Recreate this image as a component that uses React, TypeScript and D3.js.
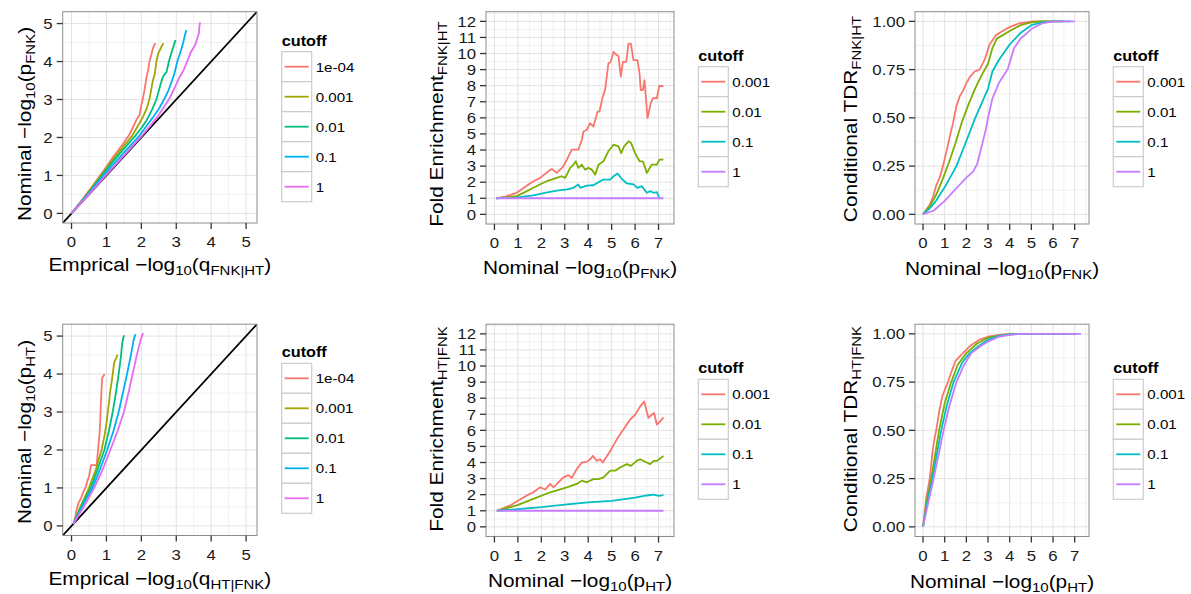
import React from 'react';
import * as d3 from 'd3';

type Pt = [number, number];

// ---------- legend categories / palette ----------
const cutoffs5 = ['1e-04', '0.001', '0.01', '0.1', '1'];
const cutoffs4 = ['0.001', '0.01', '0.1', '1'];
const colors5 = ['#F8766D', '#A3A500', '#00BF7D', '#00B0F6', '#E76BF3'];
const colors4 = ['#F8766D', '#7CAE00', '#00BFC4', '#C77CFF'];

// ---------- tick values ----------
const qqTicks = [0, 1, 2, 3, 4, 5];
const nominalTicks = [0, 1, 2, 3, 4, 5, 6, 7];
const foldTicks = [0, 1, 2, 3, 4, 5, 6, 7, 8, 9, 10, 11, 12];
const tdrTicks = [0, 0.25, 0.5, 0.75, 1];

// ---------- Panel 1: QQ FNK|HT (x = empirical, y = nominal) ----------
const qqFnk_1e4: Pt[] = [[0,0],[0.3,0.35],[0.6,0.72],[0.9,1.1],[1.2,1.5],[1.45,1.8],[1.64,2.05],[1.75,2.25],[1.85,2.45],[1.95,2.6],[2.0,2.85],[2.05,3.05],[2.1,3.3],[2.15,3.6],[2.2,3.8],[2.23,4.0],[2.28,4.15],[2.33,4.35],[2.38,4.45],[2.41,4.48]];
const qqFnk_001: Pt[] = [[0,0],[0.3,0.34],[0.6,0.7],[0.9,1.07],[1.2,1.43],[1.5,1.78],[1.74,2.05],[1.9,2.3],[2.05,2.55],[2.15,2.75],[2.23,3.0],[2.28,3.25],[2.33,3.5],[2.38,3.65],[2.43,4.0],[2.48,4.2],[2.53,4.3],[2.58,4.4],[2.63,4.48]];
const qqFnk_01: Pt[] = [[0,0],[0.3,0.33],[0.6,0.67],[0.9,1.03],[1.2,1.38],[1.5,1.7],[1.83,2.05],[2.0,2.25],[2.15,2.45],[2.3,2.72],[2.43,3.0],[2.52,3.3],[2.6,3.55],[2.65,3.65],[2.72,3.72],[2.79,4.0],[2.85,4.2],[2.92,4.4],[2.98,4.57]];
const qqFnk_1: Pt[] = [[0,0],[0.3,0.32],[0.6,0.64],[0.9,0.98],[1.2,1.3],[1.5,1.6],[1.93,2.03],[2.15,2.3],[2.35,2.55],[2.5,2.75],[2.65,3.0],[2.78,3.25],[2.88,3.5],[2.95,3.7],[3.03,4.0],[3.12,4.25],[3.2,4.5],[3.25,4.7],[3.29,4.83]];
const qqFnk_all: Pt[] = [[0,0],[0.5,0.5],[1.0,1.02],[1.5,1.52],[2.0,2.03],[2.25,2.3],[2.5,2.6],[2.79,3.0],[2.95,3.3],[3.1,3.6],[3.2,3.75],[3.31,4.0],[3.42,4.25],[3.55,4.45],[3.6,4.6],[3.65,4.75],[3.66,4.9],[3.68,5.03]];

// ---------- Panel 4: QQ HT|FNK ----------
const qqHt_1e4: Pt[] = [[0.05,0.05],[0.1,0.2],[0.15,0.45],[0.2,0.6],[0.28,0.75],[0.34,0.9],[0.4,1.0],[0.46,1.2],[0.5,1.3],[0.56,1.6],[0.72,1.6],[0.76,2.0],[0.78,2.2],[0.8,2.4],[0.82,2.7],[0.83,3.0],[0.85,3.4],[0.86,3.6],[0.88,3.9],[0.95,4.0]];
const qqHt_001: Pt[] = [[0.05,0.05],[0.2,0.4],[0.35,0.7],[0.5,1.0],[0.6,1.25],[0.7,1.5],[0.78,1.75],[0.86,2.0],[0.95,2.4],[1.0,2.7],[1.04,3.0],[1.08,3.3],[1.1,3.5],[1.15,3.8],[1.18,4.0],[1.22,4.3],[1.28,4.42],[1.32,4.51]];
const qqHt_01: Pt[] = [[0.05,0.05],[0.3,0.55],[0.55,1.0],[0.75,1.5],[0.94,2.0],[1.07,2.5],[1.18,3.0],[1.27,3.5],[1.35,4.0],[1.42,4.5],[1.45,4.8],[1.48,4.95],[1.51,5.02]];
const qqHt_1: Pt[] = [[0.05,0.05],[0.3,0.5],[0.6,1.0],[0.82,1.5],[1.02,2.0],[1.2,2.5],[1.35,3.0],[1.47,3.5],[1.59,4.0],[1.7,4.5],[1.78,4.9],[1.83,5.05]];
const qqHt_all: Pt[] = [[0.05,0.05],[0.35,0.5],[0.65,1.0],[0.9,1.5],[1.11,2.0],[1.32,2.5],[1.5,3.0],[1.63,3.5],[1.75,4.0],[1.87,4.5],[1.98,4.9],[2.05,5.08]];

// ---------- Panel 2: Fold enrichment FNK|HT ----------
const foldFnk_001: Pt[] = [[0.07,1],[0.5,1.12],[0.95,1.34],[1.3,1.7],[1.66,2.06],[1.95,2.27],[2.3,2.68],[2.45,2.82],[2.66,2.58],[2.94,2.99],[3.09,3.4],[3.3,4.02],[3.58,4.02],[3.73,4.64],[3.8,5.15],[3.94,5.26],[4.08,5.67],[4.22,5.46],[4.4,6.39],[4.48,6.39],[4.62,7.32],[4.72,7.73],[4.86,9.38],[4.96,9.48],[5.08,10.1],[5.22,9.9],[5.29,9.84],[5.39,8.56],[5.48,9.48],[5.62,9.48],[5.72,10.62],[5.82,10.62],[5.93,9.59],[6.1,9.59],[6.19,8.76],[6.24,7.73],[6.33,7.73],[6.4,8.35],[6.53,5.98],[6.67,6.91],[6.76,7.22],[6.93,7.22],[7.03,7.98],[7.21,7.98]];
const foldFnk_01: Pt[] = [[0.07,1],[0.5,1.05],[0.95,1.13],[1.3,1.38],[1.66,1.65],[2.0,1.9],[2.23,2.06],[2.66,2.27],[2.87,2.37],[3.02,2.27],[3.23,2.89],[3.37,3.09],[3.47,3.3],[3.58,2.89],[3.73,3.09],[3.87,2.78],[4.01,2.89],[4.15,2.78],[4.3,2.47],[4.44,3.09],[4.65,3.3],[4.86,3.92],[5.08,4.33],[5.29,4.23],[5.41,3.81],[5.53,4.23],[5.72,4.54],[5.83,4.43],[6.0,3.81],[6.19,3.3],[6.33,3.3],[6.5,2.58],[6.71,3.09],[6.93,3.09],[7.04,3.4],[7.21,3.4]];
const foldFnk_1: Pt[] = [[0.07,1],[0.8,1.03],[1.66,1.18],[2.2,1.35],[2.66,1.48],[3.09,1.55],[3.37,1.65],[3.58,1.86],[3.66,1.65],[3.94,1.79],[4.22,1.81],[4.51,2.06],[4.65,2.16],[4.94,2.16],[5.08,2.37],[5.25,2.54],[5.43,2.21],[5.65,1.92],[5.93,1.86],[6.1,1.65],[6.29,1.75],[6.5,1.34],[6.64,1.44],[6.79,1.34],[6.93,1.38],[7.04,1.0]];
const foldFnk_all: Pt[] = [[0.07,1],[7.21,1]];

// ---------- Panel 5: Fold enrichment HT|FNK ----------
const foldHt_001: Pt[] = [[0.1,1],[0.67,1.33],[0.95,1.58],[1.38,1.95],[1.66,2.15],[1.95,2.46],[2.16,2.32],[2.38,2.67],[2.52,2.46],[2.73,2.77],[2.94,3.08],[3.16,3.22],[3.3,3.04],[3.51,3.59],[3.73,4.0],[3.94,4.04],[4.08,4.2],[4.2,4.41],[4.37,4.1],[4.51,4.2],[4.62,4.0],[4.94,4.72],[5.22,5.44],[5.5,6.05],[5.79,6.67],[6.0,6.97],[6.22,7.49],[6.39,7.79],[6.57,6.77],[6.71,6.97],[6.81,7.08],[6.93,6.36],[7.07,6.56],[7.21,6.81]];
const foldHt_01: Pt[] = [[0.1,1],[0.95,1.33],[1.66,1.74],[2.38,2.15],[3.09,2.46],[3.51,2.67],[3.73,2.87],[3.94,2.77],[4.22,2.97],[4.44,2.97],[4.65,3.08],[4.94,3.49],[5.15,3.49],[5.36,3.69],[5.65,3.9],[5.82,3.79],[6.07,4.1],[6.22,4.2],[6.5,4.0],[6.64,3.9],[6.79,4.1],[6.93,4.1],[7.21,4.41]];
const foldHt_1: Pt[] = [[0.1,1],[1,1.1],[2,1.22],[3,1.38],[4,1.52],[5,1.62],[6,1.82],[6.5,1.95],[6.8,2.0],[7.0,1.93],[7.21,1.97]];
const foldHt_all: Pt[] = [[0.1,1],[7.21,1]];

// ---------- Panel 3: Conditional TDR FNK|HT ----------
const tdrFnk_001: Pt[] = [[0,0],[0.31,0.05],[0.46,0.09],[0.61,0.15],[0.77,0.19],[0.92,0.25],[1.07,0.32],[1.23,0.4],[1.38,0.47],[1.54,0.56],[1.69,0.61],[1.84,0.64],[2.0,0.68],[2.15,0.71],[2.38,0.74],[2.61,0.75],[2.84,0.8],[3.07,0.88],[3.38,0.93],[3.68,0.95],[3.99,0.97],[4.45,0.99],[5.07,1.0],[6.4,1.0]];
const tdrFnk_01: Pt[] = [[0,0],[0.3,0.04],[0.6,0.1],[0.9,0.18],[1.2,0.27],[1.5,0.37],[1.8,0.48],[2.1,0.57],[2.4,0.65],[2.7,0.72],[3.0,0.78],[3.2,0.86],[3.4,0.91],[3.7,0.93],[4.0,0.95],[4.5,0.98],[5.0,0.995],[5.5,1.0],[6.5,1.0]];
const tdrFnk_1: Pt[] = [[0,0],[0.3,0.03],[0.6,0.07],[1.0,0.14],[1.54,0.25],[2.0,0.38],[2.41,0.5],[2.8,0.6],[3.0,0.65],[3.2,0.74],[3.5,0.8],[4.0,0.88],[4.5,0.94],[5.0,0.98],[5.5,0.995],[6.0,1.0],[6.8,1.0]];
const tdrFnk_all: Pt[] = [[0,0],[0.5,0.02],[1.0,0.07],[1.5,0.13],[2.0,0.19],[2.3,0.22],[2.5,0.26],[2.7,0.35],[2.9,0.44],[3.0,0.5],[3.2,0.6],[3.5,0.68],[3.9,0.75],[4.2,0.86],[4.5,0.91],[5.0,0.96],[5.5,0.99],[6.0,1.0],[7.0,1.0]];

// ---------- Panel 6: Conditional TDR HT|FNK ----------
const tdrHt_001: Pt[] = [[0,0],[0.15,0.15],[0.31,0.25],[0.45,0.4],[0.55,0.47],[0.61,0.5],[0.75,0.6],[0.9,0.68],[1.15,0.75],[1.3,0.8],[1.5,0.86],[1.84,0.9],[2.2,0.94],[2.6,0.97],[3.0,0.985],[3.5,0.995],[4.0,1.0],[7.0,1.0]];
const tdrHt_01: Pt[] = [[0,0],[0.2,0.15],[0.38,0.25],[0.74,0.5],[1.0,0.64],[1.3,0.75],[1.6,0.84],[2.0,0.9],[2.5,0.95],[3.0,0.98],[3.5,0.99],[4.0,0.998],[4.5,1.0],[7.0,1.0]];
const tdrHt_1: Pt[] = [[0,0],[0.2,0.13],[0.43,0.25],[0.84,0.5],[1.1,0.63],[1.41,0.75],[1.8,0.85],[2.15,0.9],[2.6,0.94],[3.0,0.97],[3.5,0.99],[4.0,0.997],[4.5,1.0],[7.1,1.0]];
const tdrHt_all: Pt[] = [[0,0],[0.25,0.13],[0.49,0.25],[0.95,0.5],[1.2,0.62],[1.54,0.75],[1.9,0.84],[2.23,0.9],[2.7,0.94],[3.0,0.96],[3.5,0.985],[4.0,0.995],[4.5,1.0],[7.29,1.0]];

const FONT = '"Liberation Sans", Arial, Helvetica, sans-serif';
const TEXT_COL = '#1a1a1a';
const SX = 1.12; // horizontal glyph stretch of the original rendering
const SUB = 13.4;
const MAIN = 18.6;
const TICK = 15;
const LEG = 13.5;
const LW = 1.8;

type TitlePart = { t: string; sub?: boolean };

function Title({ parts }: { parts: TitlePart[] }) {
  let prevSub = false;
  return (
    <>
      {parts.map((p, i) => {
        let dy = 0;
        if (p.sub && !prevSub) dy = 4;
        if (!p.sub && prevSub) dy = -4;
        prevSub = !!p.sub;
        return (
          <tspan key={i} dy={dy} fontSize={p.sub ? SUB : MAIN}>
            {p.t}
          </tspan>
        );
      })}
    </>
  );
}

function ST(props: { x: number; y: number; anchor?: string; rot?: boolean; size: number; bold?: boolean; fill?: string; children: React.ReactNode }) {
  const tr = `translate(${props.x},${props.y})${props.rot ? ' rotate(-90)' : ''} scale(${SX},1)`;
  return (
    <text transform={tr} textAnchor={props.anchor || 'start'} fontSize={props.size} fontFamily={FONT}
      fontWeight={props.bold ? 'bold' : 'normal'} fill={props.fill || '#000'}>
      {props.children}
    </text>
  );
}

interface PanelProps {
  left: number; right: number; top: number; bottom: number;
  xDomain: [number, number]; yDomain: [number, number];
  xTicks: number[]; yTicks: number[];
  yFmt?: (v: number) => string;
  series: Pt[][]; colors: string[]; labels: string[];
  abline?: boolean;
  legendX: number; legendTop: number;
  xTitle: TitlePart[]; yTitle: TitlePart[];
  xTitleY: number; yTitleX: number; yTitleCY: number;
}

function minorOf(ticks: number[], dom: [number, number]) {
  const step = ticks[1] - ticks[0];
  const out: number[] = [];
  for (let v = ticks[0] - step / 2; v <= ticks[ticks.length - 1] + step; v += step) {
    if (v >= dom[0] && v <= dom[1]) out.push(v);
  }
  return out;
}

function Panel(p: PanelProps) {
  const x = d3.scaleLinear().domain(p.xDomain).range([p.left, p.right]);
  const y = d3.scaleLinear().domain(p.yDomain).range([p.bottom, p.top]);
  const line = d3.line<Pt>().x(d => x(d[0])).y(d => y(d[1]));
  const xMinor = minorOf(p.xTicks, p.xDomain);
  const yMinor = minorOf(p.yTicks, p.yDomain);
  const fmt = p.yFmt || ((v: number) => String(v));
  const keyH = 30;
  const clipId = `clip-${Math.round(p.left)}-${Math.round(p.top)}`;
  const cx = (p.left + p.right) / 2;
  return (
    <g>
      <defs>
        <clipPath id={clipId}>
          <rect x={p.left} y={p.top} width={p.right - p.left} height={p.bottom - p.top} />
        </clipPath>
      </defs>
      <rect x={p.left} y={p.top} width={p.right - p.left} height={p.bottom - p.top} fill="#fff" />
      {xMinor.map(v => (
        <line key={'xm' + v} x1={x(v)} x2={x(v)} y1={p.top} y2={p.bottom} stroke="#f1f1f1" strokeWidth={1} />
      ))}
      {yMinor.map(v => (
        <line key={'ym' + v} y1={y(v)} y2={y(v)} x1={p.left} x2={p.right} stroke="#f1f1f1" strokeWidth={1} />
      ))}
      {p.xTicks.map(v => (
        <line key={'xg' + v} x1={x(v)} x2={x(v)} y1={p.top} y2={p.bottom} stroke="#e2e2e2" strokeWidth={1} />
      ))}
      {p.yTicks.map(v => (
        <line key={'yg' + v} y1={y(v)} y2={y(v)} x1={p.left} x2={p.right} stroke="#e2e2e2" strokeWidth={1} />
      ))}
      <g clipPath={`url(#${clipId})`}>
        {p.abline && (
          <line x1={x(p.xDomain[0])} y1={y(p.xDomain[0])} x2={x(p.xDomain[1])} y2={y(p.xDomain[1])} stroke="#000" strokeWidth={LW} />
        )}
        {p.series.map((s, i) => (
          <path key={i} d={line(s) || ''} fill="none" stroke={p.colors[i]} strokeWidth={LW} strokeLinejoin="round" />
        ))}
      </g>
      <rect x={p.left} y={p.top} width={p.right - p.left} height={p.bottom - p.top} fill="none" stroke="#8c8c8c" strokeWidth={1} />
      {p.xTicks.map(v => (
        <g key={'xt' + v}>
          <line x1={x(v)} x2={x(v)} y1={p.bottom} y2={p.bottom + 6} stroke="#333" strokeWidth={1.3} />
          <ST x={x(v)} y={p.bottom + 24} anchor="middle" size={TICK} fill={TEXT_COL}>{v}</ST>
        </g>
      ))}
      {p.yTicks.map(v => (
        <g key={'yt' + v}>
          <line x1={p.left - 6} x2={p.left} y1={y(v)} y2={y(v)} stroke="#333" strokeWidth={1.3} />
          <ST x={p.left - 10} y={y(v) + 5.3} anchor="end" size={TICK} fill={TEXT_COL}>{fmt(v)}</ST>
        </g>
      ))}
      <ST x={cx} y={p.xTitleY} anchor="middle" size={MAIN}>
        <Title parts={p.xTitle} />
      </ST>
      <ST x={p.yTitleX} y={p.yTitleCY} anchor="middle" size={MAIN} rot>
        <Title parts={p.yTitle} />
      </ST>
      <ST x={p.legendX} y={p.legendTop - 6} size={14.5} bold>cutoff</ST>
      {p.labels.map((lab, i) => {
        const ky = p.legendTop + i * keyH;
        return (
          <g key={'lg' + i}>
            <rect x={p.legendX} y={ky} width={30} height={keyH} fill="#fff" stroke="#cccccc" strokeWidth={1.2} />
            <line x1={p.legendX + 3} x2={p.legendX + 27} y1={ky + keyH / 2} y2={ky + keyH / 2} stroke={p.colors[i]} strokeWidth={LW} />
            <ST x={p.legendX + 34} y={ky + keyH / 2 + 5} size={LEG}>{lab}</ST>
          </g>
        );
      })}
    </g>
  );
}

const ROW2 = 312.5;

export default function App() {
  const topT = 11.7, topB = 223;
  const qqDom: [number, number] = [-0.253, 5.313];
  const nomDom: [number, number] = [-0.36, 7.66];
  const foldDom: [number, number] = [-0.6, 12.6];
  const tdrDom: [number, number] = [-0.05, 1.05];
  const tdrXDom: [number, number] = [-0.37, 7.66];
  const f2 = (v: number) => v.toFixed(2);
  return (
    <svg width={1191} height={594} style={{ position: 'absolute', left: 0, top: 0, background: '#fff' }} xmlns="http://www.w3.org/2000/svg">
      <rect x={0} y={0} width={1191} height={594} fill="#fff" />
      <Panel left={62.7} right={257} top={topT} bottom={topB}
        xDomain={qqDom} yDomain={qqDom} xTicks={qqTicks} yTicks={qqTicks}
        series={[qqFnk_1e4, qqFnk_001, qqFnk_01, qqFnk_1, qqFnk_all]} colors={colors5} labels={cutoffs5} abline
        legendX={281.7} legendTop={51.7}
        xTitle={[{ t: 'Emprical \u2212log' }, { t: '10', sub: true }, { t: '(q' }, { t: 'FNK|HT', sub: true }, { t: ')' }]}
        yTitle={[{ t: 'Nominal \u2212log' }, { t: '10', sub: true }, { t: '(p' }, { t: 'FNK', sub: true }, { t: ')' }]}
        xTitleY={271} yTitleX={31} yTitleCY={124} />
      <Panel left={486} right={674} top={topT} bottom={topB + 1}
        xDomain={nomDom} yDomain={foldDom} xTicks={nominalTicks} yTicks={foldTicks}
        series={[foldFnk_001, foldFnk_01, foldFnk_1, foldFnk_all]} colors={colors4} labels={cutoffs4}
        legendX={698.3} legendTop={66.7}
        xTitle={[{ t: 'Nominal \u2212log' }, { t: '10', sub: true }, { t: '(p' }, { t: 'FNK', sub: true }, { t: ')' }]}
        yTitle={[{ t: 'Fold Enrichment' }, { t: 'FNK|HT', sub: true }]}
        xTitleY={274} yTitleX={443} yTitleCY={124} />
      <Panel left={915} right={1089} top={topT} bottom={topB + 1}
        xDomain={tdrXDom} yDomain={tdrDom} xTicks={nominalTicks} yTicks={tdrTicks} yFmt={f2}
        series={[tdrFnk_001, tdrFnk_01, tdrFnk_1, tdrFnk_all]} colors={colors4} labels={cutoffs4}
        legendX={1113.3} legendTop={66.7}
        xTitle={[{ t: 'Nominal \u2212log' }, { t: '10', sub: true }, { t: '(p' }, { t: 'FNK', sub: true }, { t: ')' }]}
        yTitle={[{ t: 'Conditional TDR' }, { t: 'FNK|HT', sub: true }]}
        xTitleY={275} yTitleX={857} yTitleCY={119} />
      <Panel left={62.7} right={257} top={topT + ROW2} bottom={topB + ROW2}
        xDomain={qqDom} yDomain={qqDom} xTicks={qqTicks} yTicks={qqTicks}
        series={[qqHt_1e4, qqHt_001, qqHt_01, qqHt_1, qqHt_all]} colors={colors5} labels={cutoffs5} abline
        legendX={281.7} legendTop={363.3}
        xTitle={[{ t: 'Emprical \u2212log' }, { t: '10', sub: true }, { t: '(q' }, { t: 'HT|FNK', sub: true }, { t: ')' }]}
        yTitle={[{ t: 'Nominal \u2212log' }, { t: '10', sub: true }, { t: '(p' }, { t: 'HT', sub: true }, { t: ')' }]}
        xTitleY={271 + ROW2 + 1} yTitleX={31} yTitleCY={432} />
      <Panel left={486} right={674} top={topT + ROW2} bottom={topB + 1 + ROW2}
        xDomain={nomDom} yDomain={foldDom} xTicks={nominalTicks} yTicks={foldTicks}
        series={[foldHt_001, foldHt_01, foldHt_1, foldHt_all]} colors={colors4} labels={cutoffs4}
        legendX={698.3} legendTop={379.3}
        xTitle={[{ t: 'Nominal \u2212log' }, { t: '10', sub: true }, { t: '(p' }, { t: 'HT', sub: true }, { t: ')' }]}
        yTitle={[{ t: 'Fold Enrichment' }, { t: 'HT|FNK', sub: true }]}
        xTitleY={274 + ROW2} yTitleX={443} yTitleCY={429} />
      <Panel left={915} right={1089} top={topT + ROW2} bottom={topB + 1 + ROW2}
        xDomain={tdrXDom} yDomain={tdrDom} xTicks={nominalTicks} yTicks={tdrTicks} yFmt={f2}
        series={[tdrHt_001, tdrHt_01, tdrHt_1, tdrHt_all]} colors={colors4} labels={cutoffs4}
        legendX={1113.3} legendTop={379.3}
        xTitle={[{ t: 'Nominal \u2212log' }, { t: '10', sub: true }, { t: '(p' }, { t: 'HT', sub: true }, { t: ')' }]}
        yTitle={[{ t: 'Conditional TDR' }, { t: 'HT|FNK', sub: true }]}
        xTitleY={275 + ROW2} yTitleX={857} yTitleCY={429} />
    </svg>
  );
}
